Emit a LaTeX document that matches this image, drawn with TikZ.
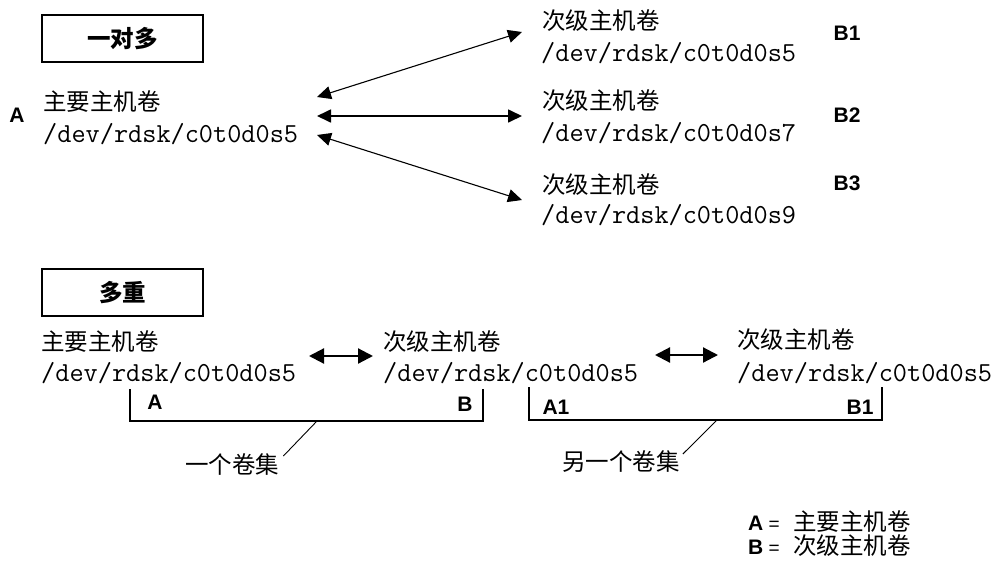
\documentclass[tikz,border=0pt]{standalone}
\usepackage{fontspec}
\usetikzlibrary{arrows.meta}
\newfontfamily\cjkf{Noto Sans CJK SC}
\newfontfamily\sansf{Liberation Sans}
\begin{document}
\begin{tikzpicture}[x=1pt,y=-1pt,
  cjk/.style={font=\cjkf\fontsize{23.5}{28}\selectfont, anchor=west, inner sep=0pt},
  mono/.style={font=\ttfamily\fontsize{27.5}{30}\selectfont, anchor=west, inner sep=0pt},
  lbl/.style={font=\sansf\bfseries\fontsize{21}{24}\selectfont, inner sep=0pt},
  titlebox/.style={draw, line width=1.5pt, minimum width=161pt, minimum height=47pt, inner sep=0pt, font=\cjkf\bfseries\fontsize{23.5}{28}\selectfont},
  thinarrow/.style={line width=1.1pt, {Triangle[length=14pt,width=13pt]}-{Triangle[length=14pt,width=13pt]}},
  midarrow/.style={line width=1.7pt, {Triangle[length=14pt,width=13pt]}-{Triangle[length=14pt,width=13pt]}},
  bigarrow/.style={line width=2.2pt, {Triangle[length=15pt,width=15pt]}-{Triangle[length=15pt,width=15pt]}},
  bracket/.style={line width=1.5pt},
  leader/.style={line width=0.9pt}
]
\useasboundingbox (0,0) rectangle (993,560);

% ---- one to many ----
\node[titlebox] (t1) at (122.5,38.5) {\raisebox{-4pt}{一对多}};
\node[lbl] (la) at (17,115) {A};
\node[cjk] (p1) at (43,102) {主要主机卷};
\node[mono] (p1d) at (43,134) {/dev/rdsk/c0t0d0s5};

\node[cjk] (s1) at (542,21) {次级主机卷};
\node[mono] (s1d) at (541,53) {/dev/rdsk/c0t0d0s5};
\node[cjk] (s2) at (542,101) {次级主机卷};
\node[mono] (s2d) at (541,133) {/dev/rdsk/c0t0d0s7};
\node[cjk] (s3) at (542,185) {次级主机卷};
\node[mono] (s3d) at (541,215) {/dev/rdsk/c0t0d0s9};
\node[lbl] (lb1) at (847,33) {B1};
\node[lbl] (lb2) at (847,115) {B2};
\node[lbl] (lb3) at (847,183) {B3};

\coordinate (a1) at (317,97);
\coordinate (a2) at (317,116);
\coordinate (a3) at (317,135);
\coordinate (b1) at (522,32);
\coordinate (b2) at (522,116);
\coordinate (b3) at (522,200);
\draw[thinarrow] (a1) -- (b1);
\draw[midarrow] (a2) -- (b2);
\draw[thinarrow] (a3) -- (b3);

% ---- multi ----
\node[titlebox] (t2) at (122.5,292.5) {\raisebox{-4pt}{多重}};
\node[cjk] (m1) at (41,342) {主要主机卷};
\node[mono] (m1d) at (41,373) {/dev/rdsk/c0t0d0s5};
\node[cjk] (m2) at (383,342) {次级主机卷};
\node[mono] (m2d) at (383,373) {/dev/rdsk/c0t0d0s5};
\node[cjk] (m3) at (737,340) {次级主机卷};
\node[mono] (m3d) at (737,373) {/dev/rdsk/c0t0d0s5};

\coordinate (c1) at (309,356);
\coordinate (c2) at (373,356);
\coordinate (c3) at (655,355);
\coordinate (c4) at (718,355);
\draw[bigarrow] (c1) -- (c2);
\draw[bigarrow] (c3) -- (c4);

% brackets
\draw[bracket] (130,389) -- (130,421) -- (483,421) -- (483,389);
\draw[bracket] (529,387) -- (529,420) -- (882,420) -- (882,387);
\node[lbl] (ba) at (155,402) {A};
\node[lbl] (bb) at (465,404) {B};
\node[lbl] (ba1) at (556,407) {A1};
\node[lbl] (bb1) at (860,407) {B1};

\node[cjk] (v1) at (185,465) {一个卷集};
\node[cjk] (v2) at (562,462) {另一个卷集};
\coordinate (v1top) at (317,421);
\coordinate (v2top) at (717,420);
\draw[leader] (v1.north east) ++(4,2) coordinate (v1end) (v1top) -- (v1end);
\draw[leader] (v2.north east) ++(3,3) coordinate (v2end) (v2top) -- (v2end);

% legend
\node[anchor=west, inner sep=0pt] (lgA) at (748,522) {{\sansf\bfseries\fontsize{21}{24}\selectfont A}{\sansf\fontsize{19}{22}\selectfont\ =\ \ \,}{\cjkf\fontsize{23.5}{28}\selectfont 主要主机卷}};
\node[anchor=west, inner sep=0pt] (lgB) at (748,546) {{\sansf\bfseries\fontsize{21}{24}\selectfont B}{\sansf\fontsize{19}{22}\selectfont\ =\ \ \,}{\cjkf\fontsize{23.5}{28}\selectfont 次级主机卷}};
\end{tikzpicture}
\end{document}
